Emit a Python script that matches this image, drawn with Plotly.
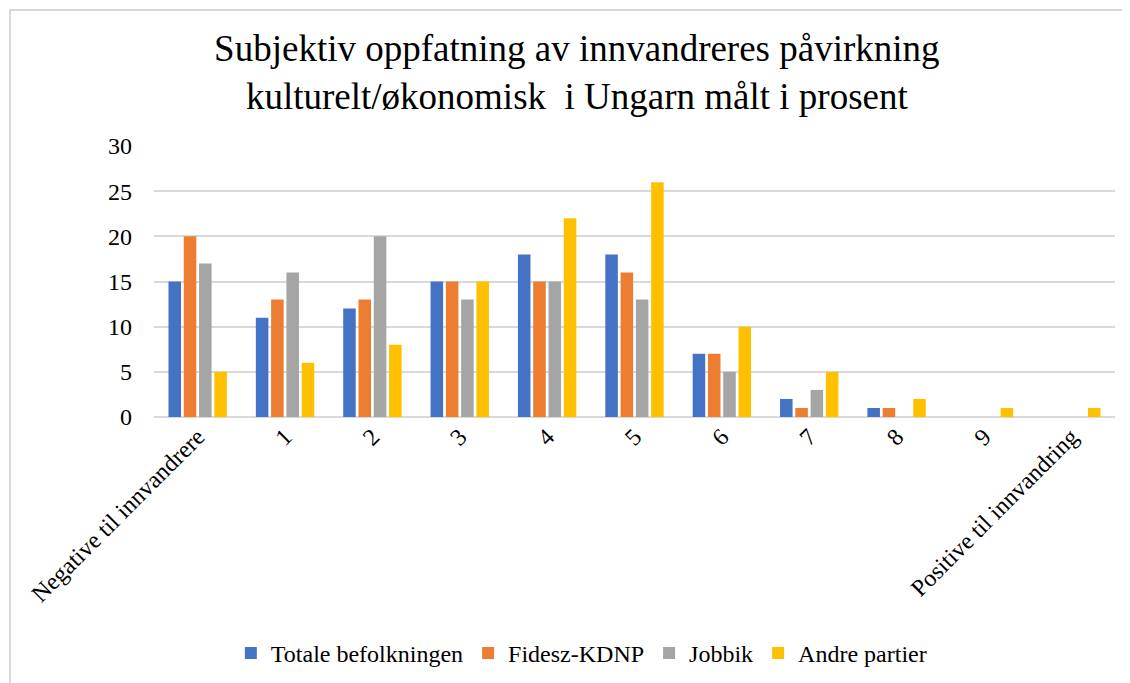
import plotly.graph_objects as go

categories = ["Negative til innvandrere", "1", "2", "3", "4", "5", "6", "7", "8", "9", "Positive til innvandring"]
totale = [15, 11, 12, 15, 18, 18, 7, 2, 1, 0, 0]
fidesz = [20, 13, 13, 15, 15, 16, 7, 1, 1, 0, 0]
jobbik = [17, 16, 20, 13, 15, 13, 5, 3, 0, 0, 0]
andre = [5, 6, 8, 15, 22, 26, 10, 5, 2, 1, 1]

series_names = ["Totale befolkningen", "Fidesz-KDNP", "Jobbik", "Andre partier"]
series_values = [totale, fidesz, jobbik, andre]
colors = ["#4472C4", "#ED7D31", "#A5A5A5", "#FFC000"]

FONT = "Liberation Serif, Times New Roman, serif"

W, H = 1122, 675
L, R, T, B = 146, 15, 138, 266
PW, PH = W - L - R, H - T - B

fig = go.Figure()
for name, vals, col in zip(series_names, series_values, colors):
    fig.add_trace(go.Bar(
        x=categories, y=vals, name=name,
        marker=dict(color=col, line=dict(width=0)),
    ))

fig.update_layout(
    width=W, height=H,
    barmode="group", bargap=0.3, bargroupgap=0.18,
    paper_bgcolor="white", plot_bgcolor="white",
    margin=dict(l=L, r=R, t=T, b=B),
    font=dict(family=FONT, color="black", size=24),
    title=dict(
        text="Subjektiv oppfatning av innvandreres påvirkning<br>kulturelt/økonomisk  i Ungarn målt i prosent",
        x=0.507, xanchor="center", xref="container", y=0.921, yanchor="middle", yref="container",
        font=dict(family=FONT, size=37, color="black"),
    ),
    showlegend=True,
    legend=dict(
        orientation="h", x=0.511, xanchor="center", xref="container",
        y=0.044, yanchor="middle", yref="container",
        font=dict(family=FONT, size=24, color="black"),
        traceorder="normal", itemwidth=30,
    ),
    xaxis=dict(
        tickangle=-45, showgrid=False, showline=False, ticks="",
        tickfont=dict(family=FONT, size=24, color="black"),
        automargin=False,
    ),
    yaxis=dict(
        range=[0, 30], tickvals=[0, 5, 10, 15, 20, 25, 30],
        showgrid=True, gridcolor="#D9D9D9", gridwidth=2,
        zeroline=True, zerolinecolor="#D9D9D9", zerolinewidth=2,
        showline=False, ticks="",
        ticklabelstandoff=21,
        tickfont=dict(family=FONT, size=24, color="black"),
        automargin=False,
    ),
    shapes=[dict(
        type="rect", xref="paper", yref="paper",
        x0=(2 - L) / PW, x1=(1140 - L) / PW,
        y0=(T + PH - 700) / PH, y1=(T + PH - 2) / PH,
        line=dict(color="#D9D9D9", width=2), fillcolor="rgba(0,0,0,0)", layer="below",
    )],
)

fig.write_html("out.html")
